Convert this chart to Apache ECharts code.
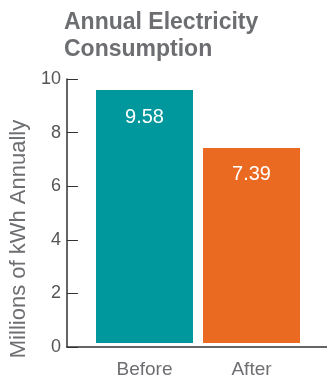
<!DOCTYPE html>
<html>
<head>
<meta charset="utf-8">
<script src="https://cdn.jsdelivr.net/npm/echarts@6/dist/echarts.min.js"></script>
<style>
  html, body { margin: 0; padding: 0; background: #fff; }
  #main { width: 327px; height: 379px; }
</style>
</head>
<body>
<div id="main"></div>
<script>
// chart data
var categories = ['Before', 'After'];
var consumption = [9.58, 7.39];
var barColors = ['#00979d', '#eb6a22'];
var yTicks = [0, 2, 4, 6, 8, 10];

var grey = '#6d6e71';
var font = 'Liberation Sans, Arial, sans-serif';

var chart = echarts.init(document.getElementById('main'));

var option = {
    animation: false,
    title: {
        text: 'Annual Electricity\nConsumption',
        left: 59,
        top: 4,
        textStyle: {
            color: grey,
            fontFamily: font,
            fontWeight: 'bold',
            fontSize: 23,
            lineHeight: 27
        }
    },
    grid: [
        // frame grid: axis lines + y ticks
        { left: 64, right: 0, top: 79, bottom: 32 },
        // bars grid
        { left: 91, width: 214, top: 79, bottom: 32 }
    ],
    xAxis: [
        {
            gridIndex: 0,
            type: 'value',
            min: 0,
            max: 1,
            axisLine: { show: true, lineStyle: { color: '#333', width: 1.5 } },
            axisTick: { show: false },
            axisLabel: { show: false },
            splitLine: { show: false }
        },
        {
            gridIndex: 1,
            type: 'category',
            data: categories,
            axisLine: { show: false },
            axisTick: { show: false },
            axisLabel: {
                margin: 17,
                color: grey,
                fontFamily: font,
                fontSize: 19
            }
        }
    ],
    yAxis: [
        {
            gridIndex: 0,
            type: 'value',
            min: yTicks[0],
            max: yTicks[yTicks.length - 1],
            interval: 2,
            name: 'Millions of kWh Annually',
            nameLocation: 'middle',
            nameGap: 18,
            nameTextStyle: {
                color: grey,
                fontFamily: font,
                fontSize: 22,
                padding: [0, 52, 0, 0]
            },
            axisLine: { show: true, lineStyle: { color: '#333', width: 1.5 } },
            axisTick: { show: true, inside: true, length: 11, lineStyle: { color: '#333' } },
            axisLabel: {
                margin: 6,
                color: '#555',
                fontFamily: font,
                fontSize: 18
            },
            splitLine: { show: false }
        },
        {
            gridIndex: 1,
            type: 'value',
            min: yTicks[0],
            max: yTicks[yTicks.length - 1],
            show: false
        }
    ],
    series: [
        {
            type: 'bar',
            xAxisIndex: 1,
            yAxisIndex: 1,
            barWidth: 97,
            data: consumption.map(function (v, i) {
                return { value: v, itemStyle: { color: barColors[i] } };
            }),
            label: {
                show: true,
                position: 'insideTop',
                distance: 17,
                color: '#fff',
                fontFamily: font,
                fontSize: 20
            }
        }
    ]
};

chart.setOption(option);
</script>
</body>
</html>
